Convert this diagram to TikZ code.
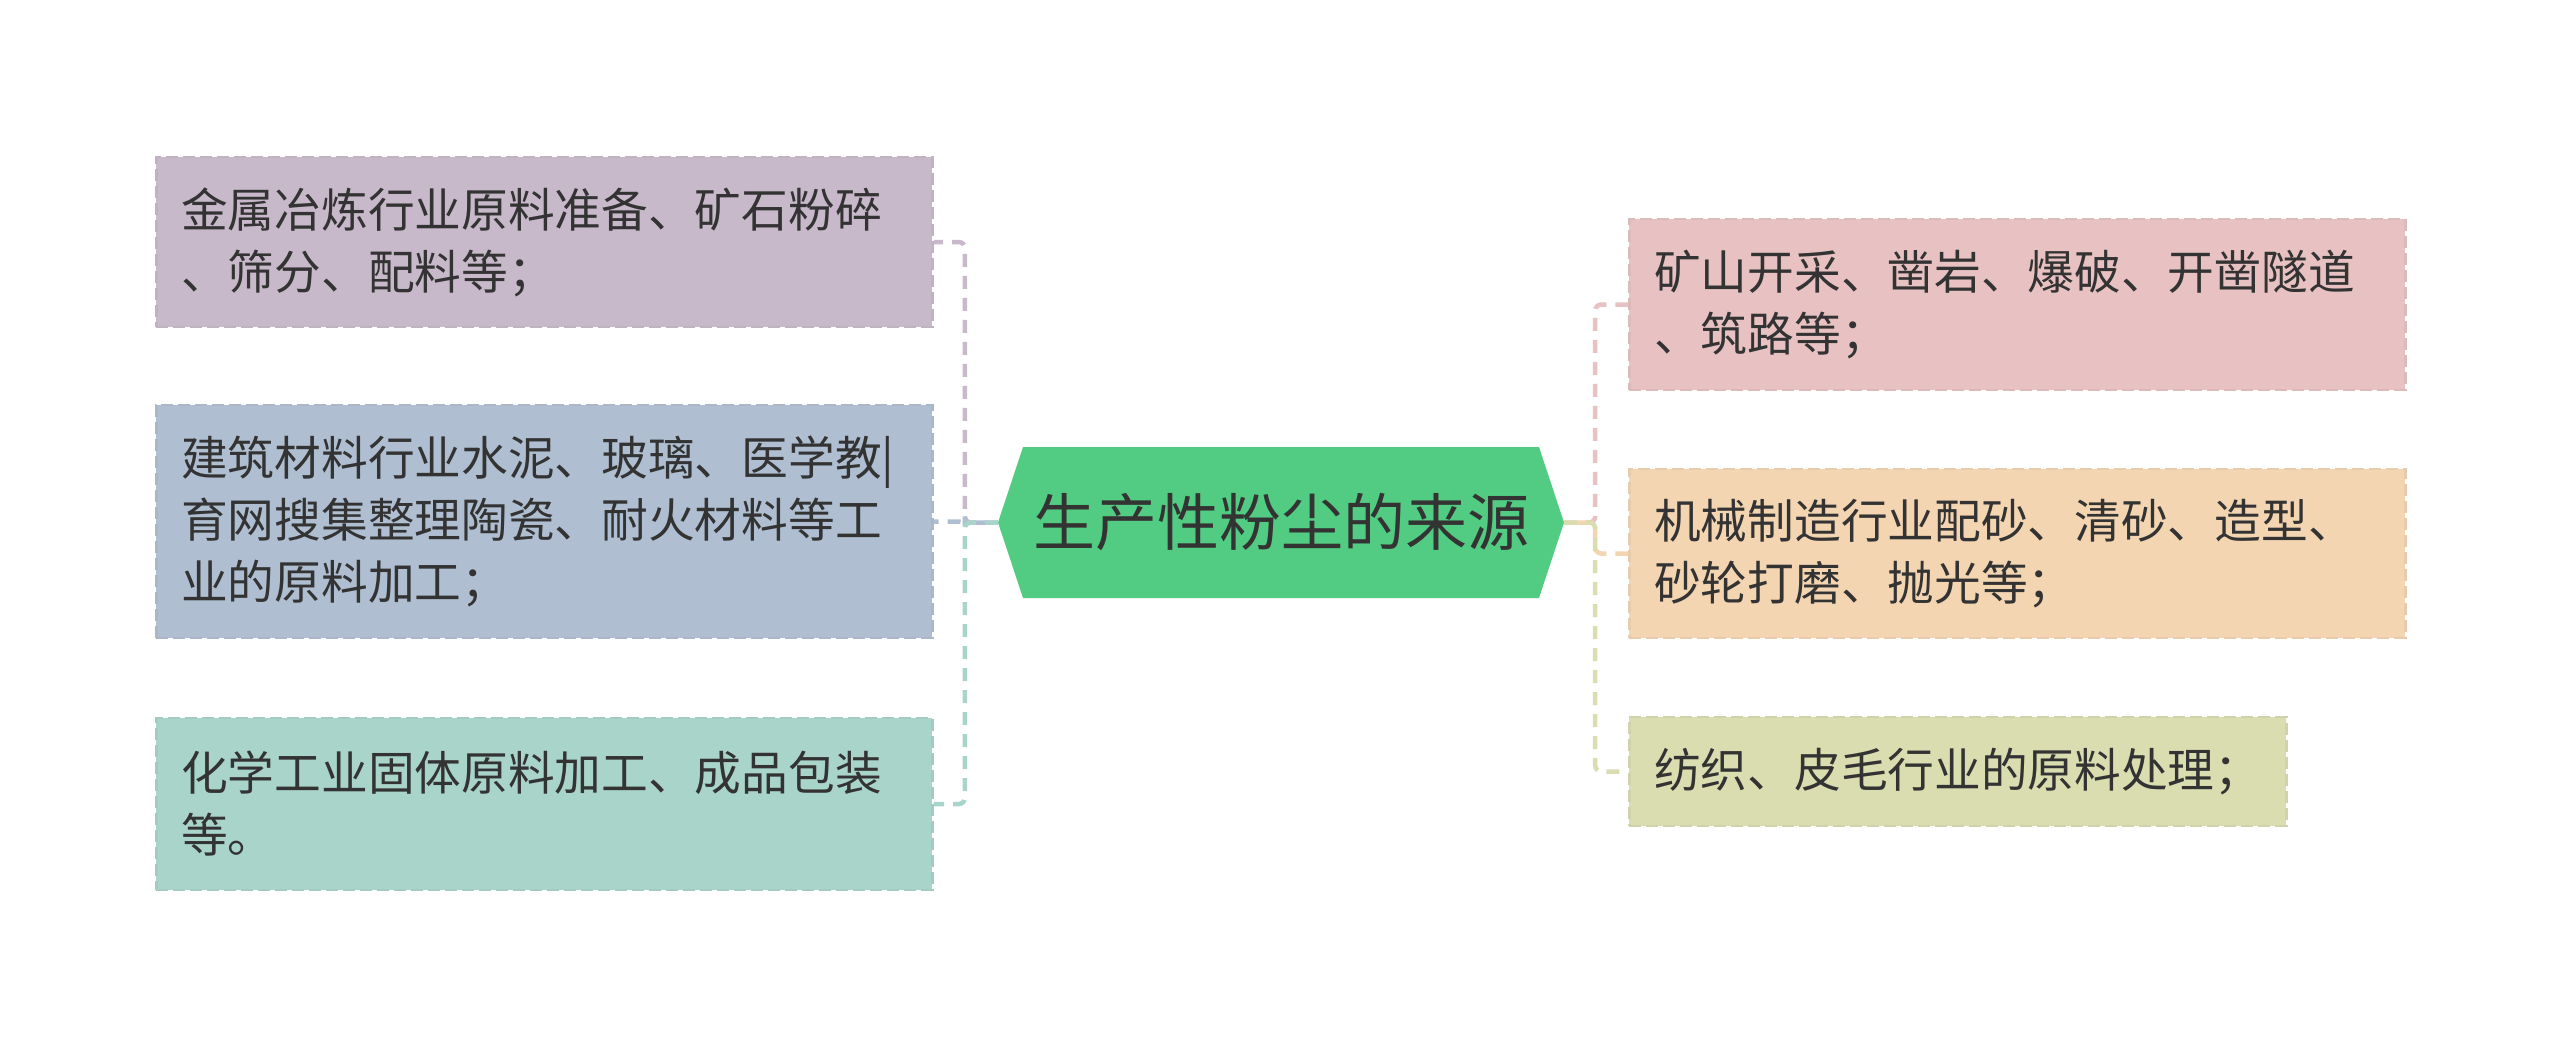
\documentclass[tikz,border=0pt]{standalone}
\usepackage{fontspec}
\setmainfont{Noto Sans CJK SC}
\definecolor{txtgray}{HTML}{333333}
\definecolor{rootgreen}{HTML}{52CC82}
\definecolor{metalpurple}{HTML}{C8B9CA}
\definecolor{buildblue}{HTML}{AFBFD1}
\definecolor{chemteal}{HTML}{A9D4CA}
\definecolor{minepink}{HTML}{E8C2C2}
\definecolor{machpeach}{HTML}{F4D5B2}
\definecolor{textolive}{HTML}{DADDB0}
\begin{document}
\begin{tikzpicture}[x=1pt,y=-1pt]
        \tikzset{leaf/.style={draw=#1!88!gray, fill=#1, line width=2.5pt, dash pattern=on 12pt off 5pt,
                    anchor=west, inner xsep=25pt, inner ysep=0pt, align=left, text=txtgray,
                    font=\fontsize{46.7pt}{62pt}\selectfont},
                 link/.style={draw=#1, line width=4.5pt, dash pattern=on 13pt off 9pt, rounded corners=6pt},
                 rootbox/.style={minimum width=566pt, minimum height=151pt, inner sep=0pt, text=txtgray,
                    font=\fontsize{62pt}{70pt}\selectfont,
                    path picture={\fill[rootgreen] (path picture bounding box.west)
                        -- ([xshift=25pt]path picture bounding box.north west)
                        -- ([xshift=-25pt]path picture bounding box.north east)
                        -- (path picture bounding box.east)
                        -- ([xshift=-25pt]path picture bounding box.south east)
                        -- ([xshift=25pt]path picture bounding box.south west) -- cycle;}}}
        \useasboundingbox (0,0) rectangle (2560,1046);
        \node[rootbox] (root) at (1281,522.5) {生产性粉尘的来源};
        \node[leaf=metalpurple, text width=726pt, minimum height=170pt] (metal) at (155,242) {金属冶炼行业原料准备、矿石粉碎\\、筛分、配料等；};
        \node[leaf=buildblue, text width=726pt, minimum height=233pt] (build) at (155,521.5) {建筑材料行业水泥、玻璃、医学教|\\育网搜集整理陶瓷、耐火材料等工\\业的原料加工；};
        \node[leaf=chemteal, text width=726pt, minimum height=172pt] (chem) at (155,804) {化学工业固体原料加工、成品包装\\等。};
        \node[leaf=minepink, text width=726pt, minimum height=171pt] (mine) at (1628,304.5) {矿山开采、凿岩、爆破、开凿隧道\\、筑路等；};
        \node[leaf=machpeach, text width=726pt, minimum height=169pt] (mach) at (1628,553.5) {机械制造行业配砂、清砂、造型、\\砂轮打磨、抛光等；};
        \node[leaf=textolive, minimum width=655pt, minimum height=109pt] (textile) at (1628,771.5) {纺织、皮毛行业的原料处理；};
        \draw[link=metalpurple] (root.west) -- ++(-33,0) |- (metal.east);
        \draw[link=buildblue, dash phase=11pt] (root.west) -- ++(-33,0) |- (build.east);
        \draw[link=chemteal, dash phase=22pt] (root.west) -- ++(-33,0) |- (chem.east);
        \draw[link=minepink] (root.east) -- ++(31,0) |- (mine.west);
        \draw[link=machpeach, dash phase=11pt] (root.east) -- ++(31,0) |- (mach.west);
        \draw[link=textolive, dash phase=22pt] (root.east) -- ++(31,0) |- (textile.west);
    \end{tikzpicture}
\end{document}
